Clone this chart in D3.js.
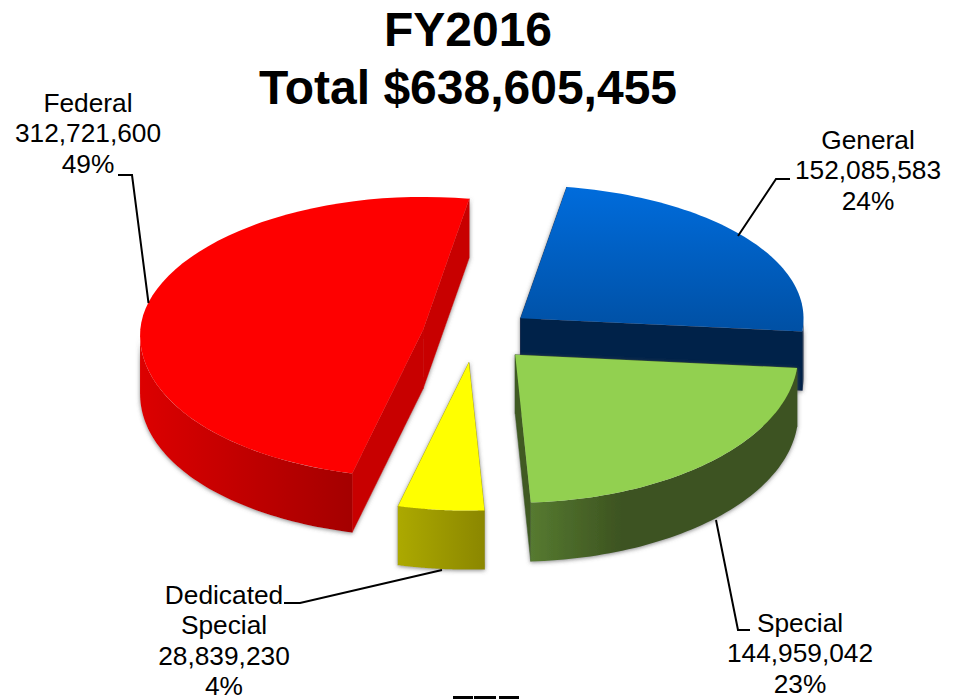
<!DOCTYPE html>
<html>
<head>
<meta charset="utf-8">
<script src="https://cdn.jsdelivr.net/npm/d3@7"></script>
<style>
    body { margin: 0; background: #fff; overflow: hidden; }
    text { font-family: "Liberation Sans", Arial, sans-serif; fill: #000; }
</style>
</head>
<body>
<div id="chart"></div>
<script>
// Chart data
var categories = ["General", "Special", "Dedicated Special", "Federal"];
var values = [152085583, 144959042, 28839230, 312721600];
var percents = ["24%", "23%", "4%", "49%"];
var titleLines = ["FY2016", "Total $638,605,455"];

// Slice colours (top, cut face, rim gradient start / end)
var topColors = ["url(#blueTop)", "#92d050", "#ffff00", "#fe0000"];
var cutColors = ["#002348", "#3f5a22", "#8f8b00", "#c80000"];
var rimStart = ["#002348", "#567a30", "#aca900", "#dc0000"];
var rimEnd = ["#002348", "#3c5220", "#8b8700", "#a40000"];

var width = 953, height = 699;
var cx = 477, cy = 334;        // pie centre before explosion
var radius = 283, explode = 55, depth = 59;
var backRatio = 0.47, frontRatio = 0.523; // perspective: front half looks deeper
var firstAngle = 9.4 * Math.PI / 180;
var apexShift = [0, 0, -2, 0];

var svg = d3.select("#chart")
    .append("svg")
    .attr("width", width)
    .attr("height", height)
    .style("display", "block");

var defs = svg.append("defs");

var blueTop = defs.append("linearGradient")
    .attr("id", "blueTop")
    .attr("x1", 0).attr("y1", 0).attr("x2", 0).attr("y2", 1);
blueTop.append("stop").attr("offset", "0%").attr("stop-color", "#006cdc");
blueTop.append("stop").attr("offset", "100%").attr("stop-color", "#0050a4");

var shadow = defs.append("filter")
    .attr("id", "sideShadow")
    .attr("x", "-10%").attr("y", "-10%").attr("width", "120%").attr("height", "120%");
shadow.append("feDropShadow")
    .attr("dx", 0).attr("dy", 1)
    .attr("stdDeviation", 2)
    .attr("flood-color", "#555")
    .attr("flood-opacity", 0.7);

// Angles come from the values
var pie = d3.pie()
    .sort(null)
    .startAngle(firstAngle)
    .endAngle(firstAngle + 2 * Math.PI);
var arcs = pie(values);

// The 3D view pulls the front-left angles round a little
function warp(angle) {
    var deg = angle * 180 / Math.PI, extra = 0;
    if (deg > 177 && deg <= 185) extra = 1.4 * (deg - 177) / 8;
    else if (deg > 185 && deg <= 230) extra = 1.4;
    else if (deg > 230 && deg < 270) extra = 1.4 * (270 - deg) / 40;
    return (deg + extra) * Math.PI / 180;
}

// Turns an angle and a distance on the pie plane into a screen offset
function project(angle, r) {
    var a = warp(angle);
    var s = Math.sin(a), c = Math.cos(a);
    var tilt = s < 0 ? 5 * s * s * r / radius : 0; // left side sits a bit lower
    return [r * s, -r * c * (c > 0 ? backRatio : frontRatio) + tilt];
}

var line = d3.line();

// Points along the outer edge of a slice
function rimPoints(apex, a0, a1, dy) {
    return d3.range(0, 61).map(function (i) {
        var p = project(a0 + (a1 - a0) * i / 60, radius);
        return [apex[0] + p[0], apex[1] + p[1] + dy];
    });
}

function drawSlice(d, i) {
    var mid = (d.startAngle + d.endAngle) / 2;
    var off = project(mid, explode);
    var apex = [cx + off[0] + apexShift[i], cy + off[1]];
    var g = svg.append("g").attr("class", "slice");
    var sides = g.append("g").attr("filter", "url(#sideShadow)");

    // Cut faces, back one first
    [d.startAngle, d.endAngle].forEach(function (a) {
        var p = project(a, radius);
        var edge = [apex[0] + p[0], apex[1] + p[1]];
        sides.append("path")
            .attr("d", line([apex, edge, [edge[0], edge[1] + depth], [apex[0], apex[1] + depth]]) + "Z")
            .attr("fill", cutColors[i])
            .attr("stroke", cutColors[i])
            .attr("stroke-width", 0.5);
    });

    // Outer wall, only the front part can be seen
    var a0 = d.startAngle, a1 = d.endAngle;
    var vis0 = Math.max(a0, Math.PI / 2), vis1 = Math.min(a1, 1.5 * Math.PI);
    if (vis1 > vis0) {
        var grad = defs.append("linearGradient")
            .attr("id", "rim" + i)
            .attr("x1", 0).attr("y1", 0).attr("x2", 1).attr("y2", 0);
        grad.append("stop").attr("offset", "0%").attr("stop-color", rimStart[i]);
        grad.append("stop").attr("offset", i === 1 ? "35%" : "100%").attr("stop-color", rimEnd[i]);
        var lower = rimPoints(apex, vis0, vis1, depth);
        var upper = rimPoints(apex, vis0, vis1, 0).reverse();
        sides.append("path")
            .attr("d", line(upper.concat(lower)) + "Z")
            .attr("fill", "url(#rim" + i + ")");
    }

    // Top face
    g.append("path")
        .attr("d", line([apex].concat(rimPoints(apex, a0, a1, 0))) + "Z")
        .attr("fill", topColors[i]);
}

// Back slices first so the front ones sit over them
arcs.forEach(drawSlice);

// Leader lines, one per label
var leaders = [
    [[790, 179], [776, 179], [738, 236]],
    [[716, 520], [738, 630], [750, 630]],
    [[284, 603], [300, 603], [442, 570]],
    [[118, 175], [132, 175], [148.5, 303]]
];

svg.selectAll(".leader")
    .data(leaders)
    .enter()
    .append("path")
    .attr("class", "leader")
    .attr("d", function (d) { return line(d); })
    .attr("fill", "none")
    .attr("stroke", "#000")
    .attr("stroke-width", 2);

// Labels: x centre and first baseline
var labelPos = [[868, 149], [800, 632], [224, 604], [88, 112]];

categories.forEach(function (name, i) {
    var rows = i === 2 ? ["Dedicated", "Special"] : [name];
    rows = rows.concat([d3.format(",")(values[i]), percents[i]]);
    svg.append("g")
        .selectAll("text")
        .data(rows)
        .enter()
        .append("text")
        .attr("x", labelPos[i][0])
        .attr("y", function (d, j) { return labelPos[i][1] + j * 30.3; })
        .attr("text-anchor", "middle")
        .attr("font-size", "26.3px")
        .text(function (d) { return d; });
});

// Title
svg.selectAll(".title")
    .data(titleLines)
    .enter()
    .append("text")
    .attr("class", "title")
    .attr("x", 468)
    .attr("y", function (d, i) { return 46 + i * 58; })
    .attr("text-anchor", "middle")
    .attr("font-size", "48px")
    .attr("font-weight", "bold")
    .text(function (d) { return d; });

// Bars at the bottom edge, the top of something cut off by the page
var bottomBars = [[453, 473], [474, 496], [499, 519]];

svg.selectAll(".bottom-bar")
    .data(bottomBars)
    .enter()
    .append("line")
    .attr("class", "bottom-bar")
    .attr("x1", function (d) { return d[0]; })
    .attr("x2", function (d) { return d[1]; })
    .attr("y1", 697.5)
    .attr("y2", 697.5)
    .attr("stroke", "#000")
    .attr("stroke-width", 3);
</script>
</body>
</html>
